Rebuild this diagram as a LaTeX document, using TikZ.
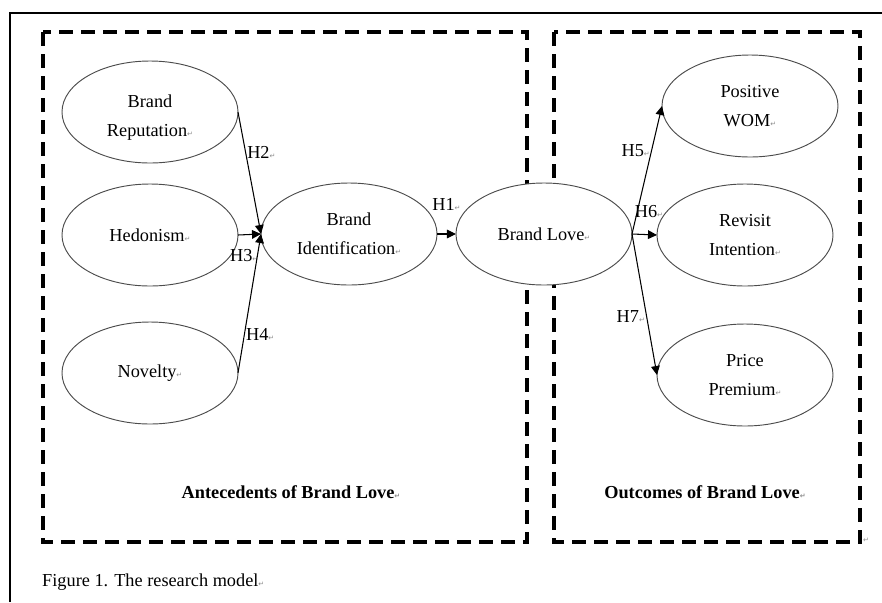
\documentclass[tikz,border=0pt]{standalone}
\usepackage{fontspec}
\setmainfont{Liberation Serif}
\newfontfamily\symfam{DejaVu Sans}
\usepackage{tikz}
\usetikzlibrary{arrows.meta,positioning,shapes.geometric}
\newcommand{\pmark}{{\color{black!45}\fontsize{6}{6}\symfam\char"21B5}}
\newcommand{\padtop}{\rule{0pt}{20.5pt}}

\begin{document}
\begin{tikzpicture}[x=0.03cm,y=-0.03cm,
  every node/.style={font=\fontsize{15.6}{24.7}\selectfont},
  construct/.style={draw=black!70,line width=0.8pt,ellipse,fill=white,minimum width=5.28cm,minimum height=3.06cm,inner sep=0pt,outer sep=0pt,align=center},
  arr/.style={-{Triangle[length=0.27cm,width=0.26cm]},line width=0.9pt},
  grp/.style={line width=2.8pt,dash pattern=on 0.42cm off 0.24cm},
  hyp/.style={inner sep=1pt}
]
\useasboundingbox (0,0) rectangle (882,602);
% page frame and the two groups
\draw[line width=1.7pt] (10,602) -- (10,13) -- (882,13);
\draw[grp] (43,32) rectangle (527,542);
\draw[grp] (554,32) rectangle (860,542);
% constructs
\node[construct] (rep) at (150,112) {\padtop Brand\\Reputation\pmark};
\node[construct] (hed) at (150,235) {Hedonism\pmark};
\node[construct] (nov) at (150,373) {Novelty\pmark};
\node[construct] (ident) at (349,234) {Brand\\Identification\pmark};
\node[construct] (love) at (544,234) {Brand Love\pmark};
\node[construct] (wom) at (750,106) {Positive\\WOM\pmark};
\node[construct] (rev) at (745,235) {Revisit\\Intention\pmark};
\node[construct] (prem) at (745,375) {Price\\Premium\pmark};
% hypotheses
\draw[arr] (rep.east) -- node[hyp,right,pos=0.33] {H2\pmark} (ident.west);
\draw[arr] (hed.east) -- node[hyp,below=0.4cm,pos=0.27] {H3\pmark} (ident.west);
\draw[arr] (nov.east) -- node[hyp,right,pos=0.28] {H4\pmark} (ident.west);
\draw[arr] (ident.east) -- node[hyp,above=0.66cm] {H1\pmark} (love.west);
\draw[arr] (love.east) -- node[hyp,left,pos=0.65] {H5\pmark} (wom.west);
\draw[arr] (love.east) -- node[hyp,above=0.45cm,pos=0.68] {H6\pmark} (rev.west);
\draw[arr] (love.east) -- node[hyp,left,pos=0.585] {H7\pmark} (prem.west);
% group titles and caption
\node (antetitle) at (291,492) {\bfseries Antecedents of Brand Love\pmark};
\node (outtitle) at (705,492) {\bfseries Outcomes of Brand Love\pmark};
\node (endmark) at (866,540) {\pmark};
\node[anchor=west,inner sep=0pt] (caption) at (42,582) {Figure 1. The research model\pmark};
\end{tikzpicture}
\end{document}
